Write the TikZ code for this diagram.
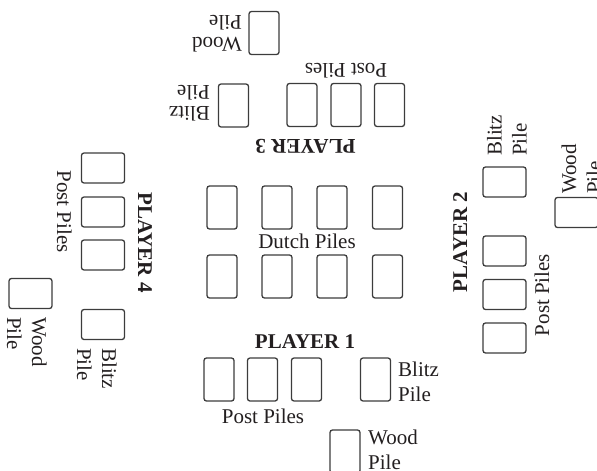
\documentclass[tikz,border=0pt]{standalone}
\usepackage{fontspec}
\setmainfont{Liberation Serif}
\definecolor{cardgray}{HTML}{3C3C3C}
\definecolor{inkc}{HTML}{231F20}
\begin{document}
\begin{tikzpicture}[x=1pt,y=-1pt,
  card/.style={draw=cardgray, line width=1.3pt, rounded corners=2.5pt, minimum width=30pt, minimum height=43pt, inner sep=0pt},
  hcard/.style={card, minimum width=43pt, minimum height=30pt},
  lbl/.style={text=inkc, inner sep=0pt, font=\fontsize{21}{25}\selectfont},
  lbltight/.style={text=inkc, inner sep=0pt, font=\fontsize{21}{21}\selectfont},
  plbl/.style={text=inkc, inner sep=0pt, font=\fontsize{21}{25}\selectfont\bfseries}]
\useasboundingbox (0,0) rectangle (597,471);
% Dutch piles
\foreach \i/\x in {1/222,2/277,3/332,4/387.5}{
  \node[card] (d1\i) at (\x,207.5) {};
  \node[card] (d2\i) at (\x,276.5) {};
}
\node[lbl, anchor=base] (dutch) at (307,248) {Dutch Piles};
% Player 1
\node[plbl, anchor=base] (p1) at (305,348) {PLAYER 1};
\node[card] (p1a) at (219,379.5) {};
\node[card] (p1b) at (262.5,379.5) {};
\node[card] (p1c) at (306.5,379.5) {};
\node[lbl, anchor=base] (p1post) at (263,423) {Post Piles};
\node[card] (p1blitz) at (375.5,379.5) {};
\node[lbl, anchor=base west] (p1blitzt) at (398,376) {\begin{tabular}[t]{@{}l@{}}Blitz\\Pile\end{tabular}};
\node[card] (p1wood) at (345,451.5) {};
\node[lbl, anchor=base west] (p1woodt) at (368,444) {\begin{tabular}[t]{@{}l@{}}Wood\\Pile\end{tabular}};
% Player 3
\node[plbl, anchor=base, rotate=180] (p3) at (305.5,139) {PLAYER 3};
\node[card] (p3a) at (302,105) {};
\node[card] (p3b) at (346,105) {};
\node[card] (p3c) at (389.5,105) {};
\node[lbl, anchor=base, rotate=180] (p3post) at (346,63) {Post Piles};
\node[card] (p3blitz) at (233.5,105.5) {};
\node[lbltight, anchor=base west, rotate=180] (p3blitzt) at (210,106) {\begin{tabular}[t]{@{}l@{}}Blitz\\Pile\end{tabular}};
\node[card] (p3wood) at (264,33) {};
\node[lbltight, anchor=base west, rotate=180] (p3woodt) at (242,37) {\begin{tabular}[t]{@{}l@{}}Wood\\Pile\end{tabular}};
% Player 2
\node[plbl, anchor=base, rotate=90] (p2) at (467,242) {PLAYER 2};
\node[hcard] (p2a) at (504.5,251) {};
\node[hcard] (p2b) at (504.5,294.5) {};
\node[hcard] (p2c) at (504.5,338) {};
\node[lbl, anchor=base, rotate=90] (p2post) at (549,295) {Post Piles};
\node[hcard] (p2blitz) at (504.5,182) {};
\node[lbl, anchor=base west, rotate=90] (p2blitzt) at (501.5,156) {\begin{tabular}[t]{@{}l@{}}Blitz\\Pile\end{tabular}};
\node[hcard] (p2wood) at (576.5,212.5) {};
\node[lbl, anchor=base west, rotate=90] (p2woodt) at (576,194) {\begin{tabular}[t]{@{}l@{}}Wood\\Pile\end{tabular}};
% Player 4
\node[plbl, anchor=base, rotate=-90] (p4) at (138,242.5) {PLAYER 4};
\node[hcard] (p4a) at (103,168) {};
\node[hcard] (p4b) at (103,212) {};
\node[hcard] (p4c) at (103,255) {};
\node[lbl, anchor=base, rotate=-90] (p4post) at (57,211.5) {Post Piles};
\node[hcard] (p4blitz) at (103,324.5) {};
\node[lbl, anchor=base west, rotate=-90] (p4blitzt) at (102,348) {\begin{tabular}[t]{@{}l@{}}Blitz\\Pile\end{tabular}};
\node[hcard] (p4wood) at (30.5,293.5) {};
\node[lbl, anchor=base west, rotate=-90] (p4woodt) at (32,317) {\begin{tabular}[t]{@{}l@{}}Wood\\Pile\end{tabular}};
\end{tikzpicture}
\end{document}
